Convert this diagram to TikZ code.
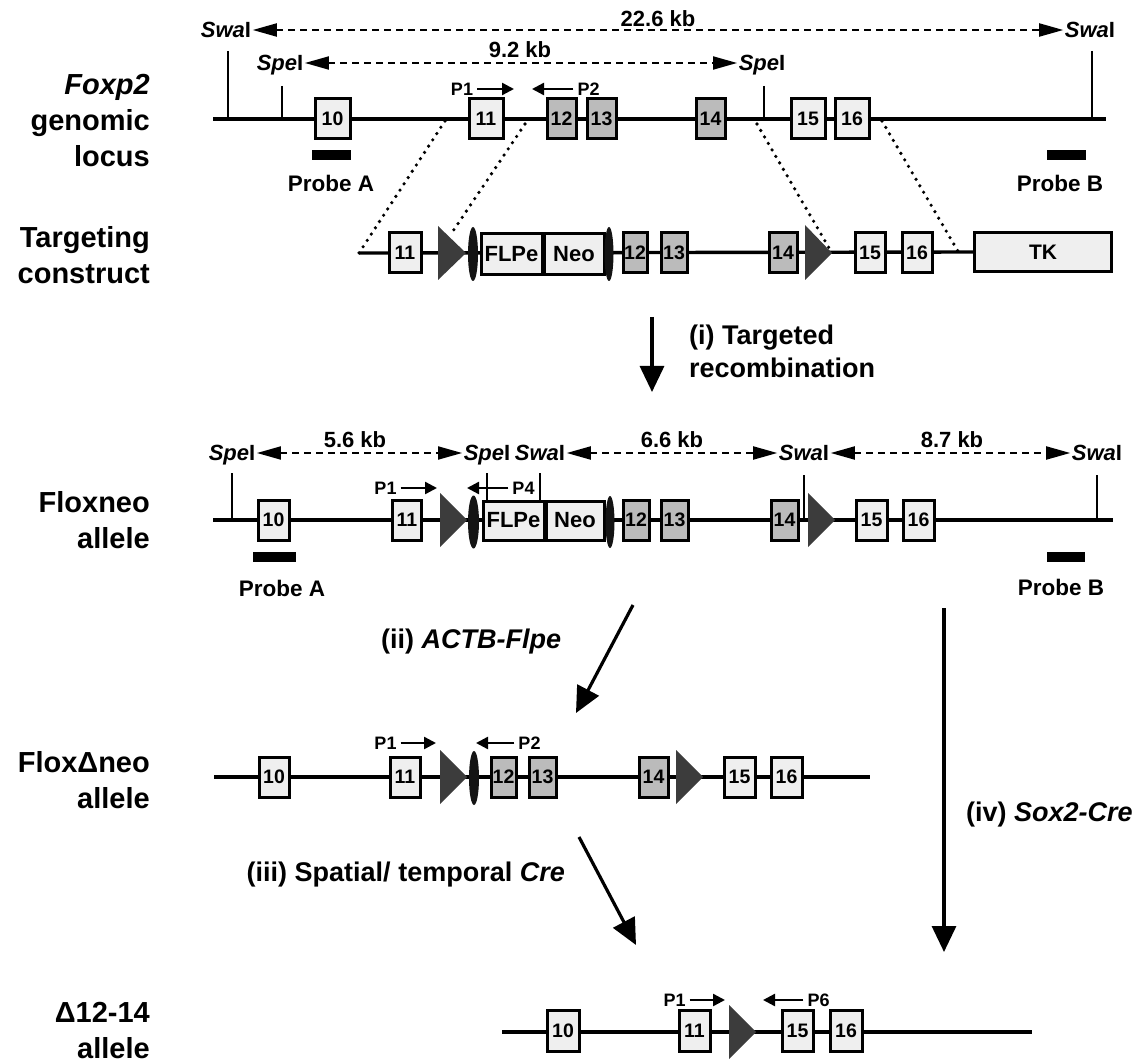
\documentclass[tikz,border=0pt]{standalone}
\usepackage{fontspec}
\setmainfont{Liberation Sans}
\usetikzlibrary{arrows.meta,shapes.geometric}
\definecolor{boxlight}{HTML}{EFEFEF}
\definecolor{boxgray}{HTML}{BBBBBB}
\definecolor{loxgray}{HTML}{3C3C3C}
\newcommand\swa{\textit{Swa}I}
\newcommand\spe{\textit{Spe}I}
\begin{document}
\begin{tikzpicture}[x=1pt,y=-1pt,
  chrom/.style={line width=3.4pt},
  exon/.style={draw, line width=3pt, fill=boxlight, inner sep=0pt, minimum height=40pt, font=\fontsize{19.5}{20}\selectfont\bfseries},
  exong/.style={exon, fill=boxgray},
  cassette/.style={draw, line width=3pt, fill=boxlight, inner sep=0pt, minimum height=40pt, font=\fontsize{22}{22}\selectfont\bfseries},
  frt/.style={ellipse, fill=black!92, inner sep=0pt},
  lox/.style={fill=loxgray},
  ticksite/.style={line width=2.2pt},
  site/.style={inner sep=1.5pt, font=\fontsize{22}{22}\selectfont\bfseries, text height=15.8pt, text depth=0pt},
  kblab/.style={inner sep=0pt, font=\fontsize{22}{22}\selectfont\bfseries},
  dim/.style={line width=1.9pt, dash pattern=on 7pt off 5pt, {Triangle[length=24pt,width=13pt]}-{Triangle[length=24pt,width=13pt]}},
  dotl/.style={line width=3.6pt, line cap=round, dash pattern=on 0pt off 7.5pt},
  primer/.style={line width=2.4pt, shorten <=3pt, -{Triangle[length=12pt,width=12pt]}},
  plab/.style={inner sep=1pt, font=\fontsize{18}{18}\selectfont\bfseries},
  probe/.style={fill=black, inner sep=0pt, minimum height=10pt},
  problab/.style={inner sep=0pt, font=\fontsize{22.5}{22.5}\selectfont\bfseries},
  rowlab/.style={anchor=east, align=right, inner sep=0pt, font=\fontsize{29}{36}\selectfont\bfseries},
  proc/.style={line width=3.2pt, -{Triangle[length=26pt,width=24pt]}},
  proclab/.style={inner sep=0pt, align=left, font=\fontsize{27}{33}\selectfont\bfseries}
]
\useasboundingbox (0,0) rectangle (1140,1064);

% ---------------- row labels
\node[rowlab] (lab1) at (150,121) {\textit{Foxp2}\\genomic\\locus};
\node[rowlab] (lab2) at (150,255) {Targeting\\construct};
\node[rowlab] (lab3) at (150,520) {Floxneo\\allele};
\node[rowlab] (lab4) at (150,780) {FloxΔneo\\allele};
\node[rowlab] (lab5) at (150,1031) {Δ12-14\\allele};

% ================= Row 1: genomic locus
\coordinate (r1a) at (213,119);
\coordinate (r1b) at (1106,119);
\draw[chrom] (r1a) -- (r1b);
\coordinate (t1a) at (228,51);  \draw[ticksite] (t1a) -- (t1a |- r1a);
\coordinate (t1b) at (282,86);  \draw[ticksite] (t1b) -- (t1b |- r1a);
\coordinate (t1c) at (764,86);  \draw[ticksite] (t1c) -- (t1c |- r1a);
\coordinate (t1d) at (1092,51); \draw[ticksite] (t1d) -- (t1d |- r1a);
\node[site] (sw1L) at (226,30) {\swa};
\node[site] (sw1R) at (1090,30) {\swa};
\node[site] (sp1L) at (280,63) {\spe};
\node[site] (sp1R) at (762,63) {\spe};
\draw[dim] (sw1L.east) -- (sw1R.west);
\draw[dim] (sp1L.east) -- (sp1R.west);
\node[kblab] (kb1) at (658,19) {22.6 kb};
\node[kblab] (kb2) at (520,50) {9.2 kb};

\node[exon,  minimum width=35pt] (e10) at (332.5,119) {10};
\node[exon,  minimum width=34pt] (e11) at (486,119) {11};
\node[exong, minimum width=29pt] (e12) at (561.5,119) {12};
\node[exong, minimum width=29pt] (e13) at (601.5,119) {13};
\node[exong, minimum width=29pt] (e14) at (710.5,119) {14};
\node[exon,  minimum width=34pt] (e15) at (808,119) {15};
\node[exon,  minimum width=34pt] (e16) at (852,119) {16};

\node[plab] (p1a) at (462,89) {P1};
\coordinate (p1at) at (514,89);
\draw[primer] (p1a.east) -- (p1at);
\node[plab] (p2a) at (588.5,89) {P2};
\coordinate (p2at) at (532,89);
\draw[primer] (p2a.west) -- (p2at);

\node[probe, minimum width=39pt] (pa1) at (331.5,155) {};
\node[problab] (pal1) at (331,183) {Probe A};
\node[probe, minimum width=39pt] (pb1) at (1066.5,155) {};
\node[problab] (pbl1) at (1060,183) {Probe B};

% ================= Row 2: targeting construct
\coordinate (r2a) at (359,253);
\node[cassette, minimum width=137.5pt, minimum height=39.5pt, font=\fontsize{21}{21}\selectfont\bfseries] (tk) at (1043,252) {TK};
\draw[chrom] (r2a) -- (tk.west);

% dotted correspondences
\coordinate (d1a) at (445,121); \draw[dotl] (d1a) -- (r2a);
\coordinate (d2a) at (525,124); \coordinate (d2b) at (451,234); \draw[dotl] (d2a) -- (d2b);
\coordinate (d3a) at (757,124); \coordinate (d3b) at (832,253); \draw[dotl] (d3a) -- (d3b);
\coordinate (d4a) at (882,121); \coordinate (d4b) at (959,253); \draw[dotl] (d4a) -- (d4b);

\node[exon,  minimum width=32pt] (c11) at (405,253) {11};
\fill[lox] (438,226) -- (438,280) -- (466,253) -- cycle;
\node[frt, minimum width=10pt, minimum height=54pt] (frt2a) at (473,254) {};
\node[cassette, minimum width=61pt, minimum height=41.5pt] (flp2) at (511.5,254) {FLPe};
\node[cassette, minimum width=60pt, minimum height=41.5pt] (neo2) at (574,254) {Neo};
\node[frt, minimum width=9pt, minimum height=54pt] (frt2b) at (609,254) {};
\node[exong, minimum width=24pt] (c12) at (635,253) {12};
\node[exong, minimum width=26pt] (c13) at (674,253) {13};
\node[exong, minimum width=28pt] (c14) at (783,253) {14};
\fill[lox] (805,225) -- (805,280) -- (832,253) -- cycle;
\node[exon,  minimum width=30pt] (c15) at (870,253) {15};
\node[exon,  minimum width=30pt] (c16) at (917,253) {16};

% ================= arrow (i)
\coordinate (i1) at (652,317); \coordinate (i2) at (652,392);
\draw[proc] (i1) -- (i2);
\node[proclab, anchor=west] (il) at (689,351) {(i) Targeted\\recombination};

% ================= Row 3: Floxneo allele
\coordinate (r3a) at (213,520);
\coordinate (r3b) at (1113,520);
\draw[chrom] (r3a) -- (r3b);
\node[site] (sp3a) at (232,453) {\spe};
\node[site] (sp3b) at (487,453) {\spe};
\node[site] (sw3a) at (540,453) {\swa};
\node[site] (sw3b) at (804,453) {\swa};
\node[site] (sw3c) at (1097,453) {\swa};
\draw[dim] (sp3a.east) -- (sp3b.west);
\draw[dim] (sw3a.east) -- (sw3b.west);
\draw[dim] (sw3b.east) -- (sw3c.west);
\node[kblab] (kb3) at (355,440) {5.6 kb};
\node[kblab] (kb4) at (672,440) {6.6 kb};
\node[kblab] (kb5) at (952,440) {8.7 kb};

\coordinate (t3a) at (232,473);  \draw[ticksite] (t3a) -- (t3a |- r3a);
\coordinate (t3d) at (804,475);  \draw[ticksite] (t3d) -- (t3d |- r3a);
\coordinate (t3e) at (1097,475); \draw[ticksite] (t3e) -- (t3e |- r3a);

\node[exon,  minimum width=31pt] (f10) at (273.5,520) {10};
\node[exon,  minimum width=29pt] (f11) at (407,520) {11};
\fill[lox] (440,493) -- (440,547) -- (467,520) -- cycle;
\node[frt, minimum width=11pt, minimum height=53pt] (frt3a) at (473.5,522) {};
\node[cassette, minimum width=61pt, minimum height=39pt] (flp3) at (513.5,520.5) {FLPe};
\node[cassette, minimum width=58pt, minimum height=39pt] (neo3) at (575,520.5) {Neo};
\node[frt, minimum width=9pt, minimum height=52pt] (frt3b) at (610,522) {};
\coordinate (t3b) at (487,473); \draw[ticksite] (t3b) -- (t3b |- flp3.north);
\coordinate (t3c) at (540,473); \draw[ticksite] (t3c) -- (t3c |- flp3.north);
\node[exong, minimum width=26pt] (f12) at (636,520) {12};
\node[exong, minimum width=27pt] (f13) at (674.5,520) {13};
\node[exong, minimum width=27pt] (f14) at (784.5,520) {14};
\fill[lox] (808,493) -- (808,547) -- (835,520) -- cycle;
\node[exon,  minimum width=31pt] (f15) at (871.5,520) {15};
\node[exon,  minimum width=31pt] (f16) at (918.5,520) {16};

\node[plab] (p1c) at (385.5,488) {P1};
\coordinate (p1ct) at (437,488);
\draw[primer] (p1c.east) -- (p1ct);
\node[plab] (p4c) at (523.5,488) {P4};
\coordinate (p4ct) at (467,488);
\draw[primer] (p4c.west) -- (p4ct);

\node[probe, minimum width=43pt] (pa3) at (274.5,557) {};
\node[problab] (pal3) at (282,588) {Probe A};
\node[probe, minimum width=38pt] (pb3) at (1066,557) {};
\node[problab] (pbl3) at (1061,587) {Probe B};

% ================= arrows (ii), (iv)
\coordinate (ii1) at (633,605); \coordinate (ii2) at (576,713);
\draw[proc] (ii1) -- (ii2);
\node[proclab, anchor=west] (iil) at (381,642) {(ii) \textit{ACTB-Flpe}};

\coordinate (iv1) at (944,608); \coordinate (iv2) at (944,952);
\draw[proc] (iv1) -- (iv2);
\node[proclab, anchor=west] (ivl) at (966,815) {(iv) \textit{Sox2-Cre}};

% ================= Row 4: Flox-delta-neo allele
\coordinate (r4a) at (214,777);
\coordinate (r4b) at (870,777);
\draw[chrom] (r4a) -- (r4b);
\node[exon,  minimum width=30pt] (g10) at (274,777) {10};
\node[exon,  minimum width=30pt] (g11) at (405,777) {11};
\fill[lox] (440,750) -- (440,804) -- (467,777) -- cycle;
\node[frt, minimum width=10pt, minimum height=54pt] (frt4) at (474,778) {};
\node[exong, minimum width=25pt] (g12) at (503.5,777) {12};
\node[exong, minimum width=27pt] (g13) at (542.5,777) {13};
\node[exong, minimum width=29pt] (g14) at (653.5,777) {14};
\fill[lox] (676,750) -- (676,804) -- (703,777) -- cycle;
\node[exon,  minimum width=31pt] (g15) at (739.5,777) {15};
\node[exon,  minimum width=31pt] (g16) at (786.5,777) {16};

\node[plab] (p1d) at (385.5,743) {P1};
\coordinate (p1dt) at (436,743);
\draw[primer] (p1d.east) -- (p1dt);
\node[plab] (p2d) at (529.5,743) {P2};
\coordinate (p2dt) at (476,743);
\draw[primer] (p2d.west) -- (p2dt);

% ================= arrow (iii)
\coordinate (iii1) at (579,837); \coordinate (iii2) at (636,945);
\draw[proc] (iii1) -- (iii2);
\node[proclab, anchor=east] (iiil) at (565,875) {(iii) Spatial/ temporal \textit{Cre}};

% ================= Row 5: delta 12-14 allele
\coordinate (r5a) at (502,1032);
\coordinate (r5b) at (1032,1032);
\draw[chrom] (r5a) -- (r5b);
\node[exon, minimum width=32pt, minimum height=41pt] (h10) at (563,1031) {10};
\node[exon, minimum width=31pt, minimum height=41pt] (h11) at (694.5,1031) {11};
\fill[lox] (729,1005) -- (729,1059) -- (756,1032) -- cycle;
\node[exon, minimum width=31pt, minimum height=41pt] (h15) at (797.5,1031) {15};
\node[exon, minimum width=32pt, minimum height=41pt] (h16) at (846,1031) {16};

\node[plab] (p1e) at (674.5,1000) {P1};
\coordinate (p1et) at (725,1000);
\draw[primer] (p1e.east) -- (p1et);
\node[plab] (p6e) at (818.5,1000) {P6};
\coordinate (p6et) at (763,1000);
\draw[primer] (p6e.west) -- (p6et);
\end{tikzpicture}
\end{document}
